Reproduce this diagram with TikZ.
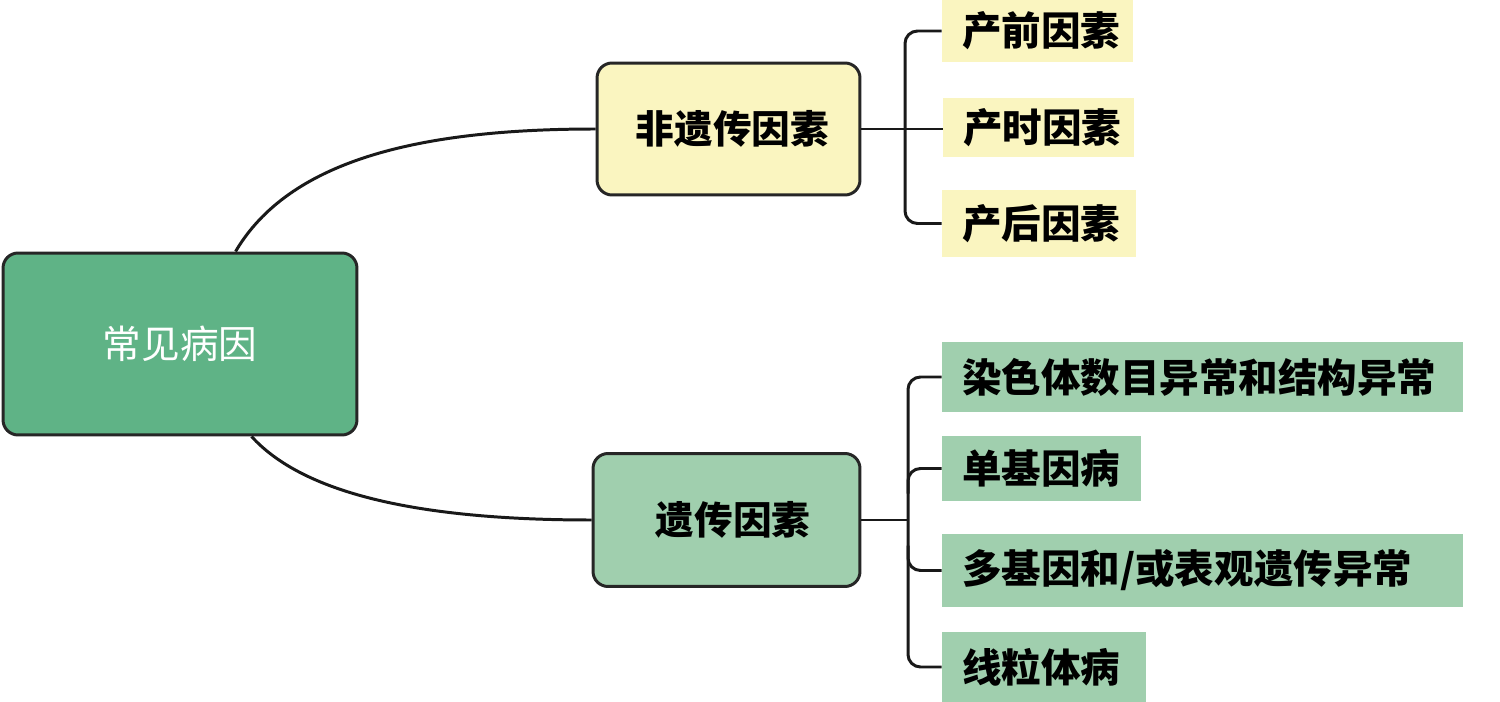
\documentclass[tikz,border=0pt]{standalone}
\usepackage{fontspec}
\setmainfont{Noto Sans CJK SC}
\usetikzlibrary{calc}
\definecolor{rootgreen}{RGB}{95,179,134}
\definecolor{lightgreen}{RGB}{160,207,174}
\definecolor{paleyellow}{RGB}{250,245,192}
\tikzset{
  mainbox/.style={draw=black!85, line width=1.7pt, rounded corners=0.3cm, align=center, inner sep=0pt, font=\fontsize{22}{26}\selectfont\bfseries},
  leafbox/.style={draw=none, inner xsep=0.4cm, inner ysep=0pt, font=\fontsize{22.5}{26}\selectfont\bfseries, anchor=center},
  conn/.style={draw=black!90, line width=1.7pt},
  bracket/.style={conn, rounded corners=0.25cm},
}
\begin{document}
\begin{tikzpicture}[x=0.02cm, y=-0.02cm]
\useasboundingbox (0,0) rectangle (1500,702);
% root
\node[mainbox, fill=rootgreen, text=white, font=\fontsize{22}{26}\selectfont, minimum width=7.08cm, minimum height=3.64cm] (root) at (180,344) {常见病因};
% middle boxes
\node[mainbox, fill=paleyellow, minimum width=5.26cm, minimum height=2.64cm] (mu) at (728.5,129) {\hspace{0.16cm}非遗传因素};
\node[mainbox, fill=lightgreen, minimum width=5.34cm, minimum height=2.66cm] (ml) at (726.5,520) {\hspace{0.26cm}遗传因素};
% upper leaves
\node[leafbox, fill=paleyellow, minimum width=3.82cm, minimum height=1.24cm, text width=3.02cm, align=left] (u1) at (1037.5,31) {产前因素};
\node[leafbox, fill=paleyellow, minimum width=3.82cm, minimum height=1.18cm, text width=3.02cm, align=left] (u2) at (1038.5,127.5) {产时因素};
\node[leafbox, fill=paleyellow, minimum width=3.88cm, minimum height=1.34cm, text width=3.08cm, align=left] (u3) at (1039,223.5) {产后因素};
% lower leaves
\node[leafbox, fill=lightgreen, minimum width=10.42cm, minimum height=1.40cm, text width=9.62cm, align=left] (g1) at (1202.5,377) {染色体数目异常和结构异常};
\node[leafbox, fill=lightgreen, minimum width=3.98cm, minimum height=1.30cm, text width=3.18cm, align=left] (g2) at (1041.5,468.5) {单基因病};
\node[leafbox, fill=lightgreen, minimum width=10.42cm, minimum height=1.46cm, text width=9.62cm, align=left] (g3) at (1202.5,570.5) {多基因和/或表观遗传异常};
\node[leafbox, fill=lightgreen, minimum width=4.08cm, minimum height=1.40cm, text width=3.28cm, align=left] (g4) at (1044,667) {线粒体病};
% bracket coordinates
\coordinate (bu) at (905,0);
\coordinate (bl) at (908,0);
% curves from root
\draw[conn] ($(root.north west)+(234,0)$) .. controls ($(root.north west)+(287,-90)$) and ($(mu.west)+(-180,0)$) .. (mu.west);
\draw[conn] ($(root.south west)+(250,0)$) .. controls ($(root.south west)+(300,55)$) and ($(ml.west)+(-180,0)$) .. (ml.west);
% upper bracket
\draw[bracket] (u1.west) -- (u1.west -| bu) -- (u3.west -| bu) -- (u3.west);
\draw[conn] (mu.east) -- (mu.east -| u2.west);
% lower bracket
\draw[bracket] (g1.west) -- (g1.west -| bl) -- (g4.west -| bl) -- (g4.west);
\draw[bracket] (g2.west) -- (g2.west -| bl) -- ($(g2.west -| bl)+(0,25)$);
\draw[bracket] (g3.west) -- (g3.west -| bl) -- ($(g3.west -| bl)+(0,-25)$);
\draw[conn] (ml.east) -- (ml.east -| bl);
\end{tikzpicture}
\end{document}
